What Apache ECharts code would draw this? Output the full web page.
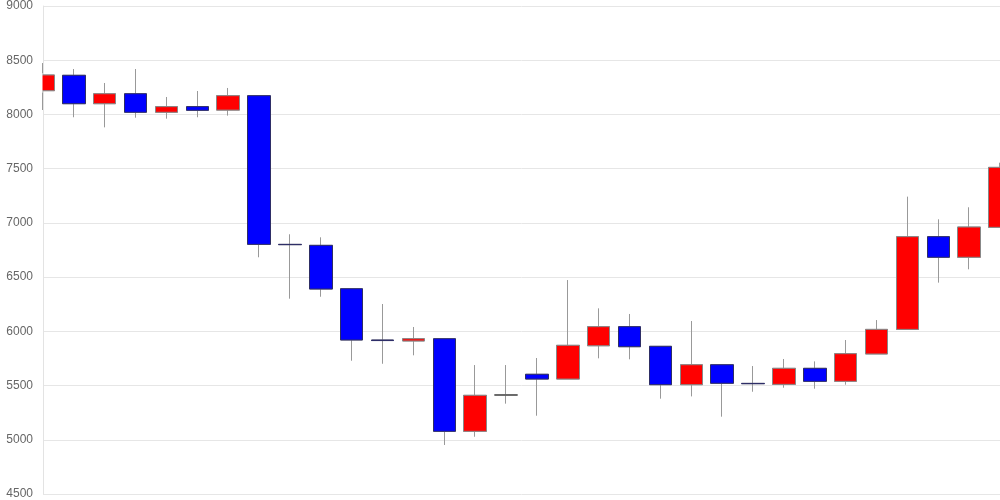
<!DOCTYPE html>
<html>
<head>
<meta charset="utf-8">
<script src="https://cdn.jsdelivr.net/npm/echarts@6/dist/echarts.min.js"></script>
<style>html,body{margin:0;padding:0;background:#fff}#chart{width:1000px;height:500px}</style>
</head>
<body>
<div id="chart"></div>
<script>
var categories = ['1','2','3','4','5','6','7','8','9','10','11','12','13','14','15','16','17','18','19','20','21','22','23','24','25','26','27','28','29','30','31','32'];
var openValues  = [8219,8361,8099,8191,8020,8072,8040,8173,6802,6793,6393,5920,5911,5932,5078,5413,5604,5560,5867,6043,5862,5508,5692,5520,5511,5659,5539,5791,6018,6873,6683,6959];
var closeValues = [8364,8099,8191,8020,8072,8038,8173,6802,6799,6390,5920,5915,5932,5078,5410,5413,5560,5871,6043,5858,5508,5692,5521,5517,5659,5539,5794,6018,6873,6683,6962,7512];
var lowValues   = [8041,7974,7881,7970,7961,7974,7989,6683,6301,6319,5729,5701,5779,4952,5028,5333,5222,5560,5751,5742,5379,5400,5213,5443,5480,5471,5508,5791,6018,6449,6572,6959];
var highValues  = [8474,8419,8290,8419,8161,8216,8244,8173,6895,6867,6393,6252,6040,5932,5689,5689,5754,6473,6212,6160,5862,6095,5692,5680,5745,5723,5920,6104,7242,7033,7144,7555];
var yTicks = [4500,5000,5500,6000,6500,7000,7500,8000,8500,9000];

var wickData = [], bodyData = [];
for (var i = 0; i < categories.length; i++) {
  wickData.push([openValues[i], closeValues[i], lowValues[i], highValues[i]]);
  bodyData.push([openValues[i], closeValues[i], Math.min(openValues[i], closeValues[i]), Math.max(openValues[i], closeValues[i])]);
}

var chart = echarts.init(document.getElementById('chart'), null, {renderer: 'canvas'});
chart.setOption({
  animation: false,
  grid: {left: 43, right: 0, top: 6, bottom: 6, containLabel: false},
  xAxis: {
    type: 'category', data: categories, boundaryGap: false,
    axisLine: {show: false}, axisTick: {show: false}, axisLabel: {show: false}, splitLine: {show: false}
  },
  yAxis: {
    type: 'value', min: yTicks[0], max: yTicks[yTicks.length - 1], interval: 500,
    axisLine: {show: true, lineStyle: {color: '#e3e3e3'}},
    axisTick: {show: false},
    axisLabel: {color: '#666', fontSize: 12, fontFamily: 'Liberation Sans, Arial, sans-serif', margin: 10,
      formatter: function (v) { return String(v); }},
    splitLine: {show: true, lineStyle: {color: '#e6e6e6', width: 1}}
  },
  series: [
    {
      type: 'candlestick', data: wickData, barWidth: 23, clip: true,
      itemStyle: {color: 'transparent', color0: 'transparent', borderColor: '#999', borderColor0: '#999', borderColorDoji: '#999', borderWidth: 1}
    },
    {
      type: 'candlestick', data: bodyData, barWidth: 23, clip: true,
      itemStyle: {color: '#ff0000', color0: '#0000ff', borderColor: '#888', borderColor0: '#2e2e66', borderColorDoji: '#555', borderWidth: 1}
    }
  ]
});

// mask the part of the first candle body that overflows left of the plot area
var p0 = chart.convertToPixel({xAxisIndex: 0, yAxisIndex: 0}, [0, Math.max(openValues[0], closeValues[0])]);
var p1 = chart.convertToPixel({xAxisIndex: 0, yAxisIndex: 0}, [0, Math.min(openValues[0], closeValues[0])]);
chart.setOption({
  graphic: [{
    type: 'rect', z: 100, silent: true,
    shape: {x: p0[0] - 14, y: p0[1] - 2, width: 13.5, height: p1[1] - p0[1] + 4},
    style: {fill: '#fff'}
  }]
});
</script>
</body>
</html>
